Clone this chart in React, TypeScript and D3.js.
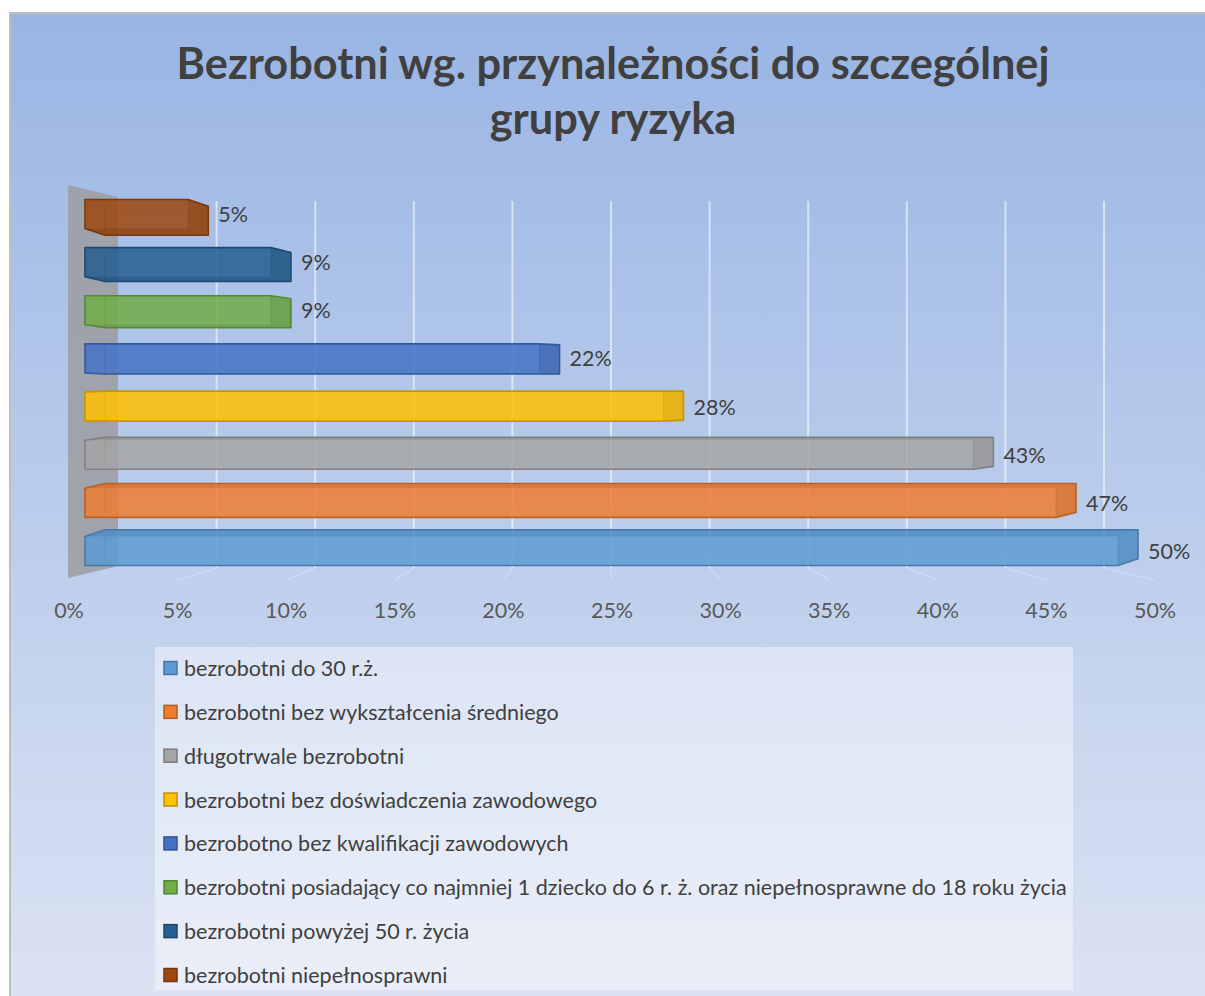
import React, { useRef, useEffect } from 'react';
import * as d3 from 'd3';

// series in legend order (first one is drawn at the bottom)
const categories = [
  'bezrobotni do 30 r.ż.',
  'bezrobotni bez wykształcenia średniego',
  'długotrwale bezrobotni',
  'bezrobotni bez doświadczenia zawodowego',
  'bezrobotno bez kwalifikacji zawodowych',
  'bezrobotni posiadający co najmniej 1 dziecko do 6 r. ż. oraz niepełnosprawne do 18 roku życia',
  'bezrobotni powyżej 50 r. życia',
  'bezrobotni niepełnosprawni',
];
const values = [0.5, 0.47, 0.43, 0.28, 0.22, 0.09, 0.09, 0.05];
const colors = ['#5B9BD5', '#ED7D31', '#A5A5A5', '#FFC000', '#4472C4', '#70AD47', '#255E91', '#9E480E'];
const tickValues = [0, 0.05, 0.1, 0.15, 0.2, 0.25, 0.3, 0.35, 0.4, 0.45, 0.5];
const titleLines = ['Bezrobotni wg. przynależności do szczególnej', 'grupy ryzyka'];

const W = 1205;
const H = 996;
const FONT = 'Lato, "Open Sans", sans-serif';
const TXT = 21.5;

function App() {
  const ref = useRef<SVGSVGElement>(null);

  useEffect(() => {
    const svg = d3.select(ref.current);
    svg.selectAll('*').remove();

    // background
    const defs = svg.append('defs');
    const bg = defs.append('linearGradient')
      .attr('id', 'bg-grad')
      .attr('x1', '0%').attr('y1', '0%')
      .attr('x2', '0%').attr('y2', '100%');
    bg.append('stop').attr('offset', '0%').attr('stop-color', 'rgb(153,181,228)');
    bg.append('stop').attr('offset', '100%').attr('stop-color', 'rgb(219,227,243)');

    svg.append('rect').attr('width', W).attr('height', H).attr('fill', '#fff');
    svg.append('rect')
      .attr('x', 9).attr('y', 12)
      .attr('width', W - 9).attr('height', H - 12)
      .attr('fill', 'url(#bg-grad)');
    svg.append('path')
      .attr('d', `M10,${H} V13 H${W}`)
      .attr('fill', 'none')
      .attr('stroke', '#bdbdbd')
      .attr('stroke-width', 2);

    // title
    svg.append('g')
      .selectAll('text')
      .data(titleLines)
      .enter().append('text')
      .attr('x', 613)
      .attr('y', (d, i) => 79 + i * 55)
      .attr('text-anchor', 'middle')
      .attr('font-family', FONT)
      .attr('font-weight', 700)
      .attr('font-size', 43.3)
      .attr('fill', '#404040')
      .text(d => d);

    // scales: front floor edge (tick labels), back wall (gridlines), bars
    const xFloor = d3.scaleLinear().domain([0, 0.5]).range([69, 1155]);
    const xBack = d3.scaleLinear().domain([0, 0.5]).range([118, 1104]);
    const xBar = d3.scaleLinear().domain([0, 0.5]).range([85, 1118]);

    const rowOrder = categories.slice().reverse();
    const y = d3.scaleBand()
      .domain(rowOrder)
      .range([199.5, 565.5])
      .paddingInner(0.397)
      .paddingOuter(0);

    const wallTopFront = 185, wallTopBack = 197, wallBotFront = 578, wallBotBack = 566;

    // side wall
    svg.append('path')
      .attr('d', `M${xFloor(0) - 1},${wallTopFront} L${xBack(0)},${wallTopBack} L${xBack(0)},${wallBotBack} L${xFloor(0) - 1},${wallBotFront} Z`)
      .attr('fill', '#9d9fa4')
      .attr('fill-opacity', 0.9);

    // gridlines on back wall
    const grid = svg.append('g');
    grid.selectAll('line.v')
      .data(tickValues.slice(1))
      .enter().append('line')
      .attr('class', 'v')
      .attr('x1', d => xBack(d)).attr('x2', d => xBack(d))
      .attr('y1', wallTopBack + 4).attr('y2', wallBotBack + 2)
      .attr('stroke', '#ffffff')
      .attr('stroke-opacity', 0.55)
      .attr('stroke-width', 2);
    // faint floor lines
    grid.selectAll('line.f')
      .data(tickValues.slice(1))
      .enter().append('line')
      .attr('class', 'f')
      .attr('x1', d => xBack(d)).attr('x2', d => xFloor(d))
      .attr('y1', wallBotBack + 2).attr('y2', wallBotFront + 2)
      .attr('stroke', '#ffffff')
      .attr('stroke-opacity', 0.22)
      .attr('stroke-width', 1.5);

    // bars (pseudo 3D prisms)
    const depthX = 20;
    const vanishY = 383;
    const bars = svg.append('g');
    categories.forEach((cat, i) => {
      const v = values[i];
      const c = d3.color(colors[i])!;
      const dark = c.darker(0.7).formatHex();
      const x0 = xBar(0);
      const x1 = xBar(v);
      const y0 = y(cat)!;
      const h = y.bandwidth();
      const dy = -(y0 + h / 2 - vanishY) * 0.04;
      const F: [number, number][] = [[x0, y0], [x1, y0], [x1, y0 + h], [x0, y0 + h]];
      const B: [number, number][] = F.map(p => [p[0] + depthX, p[1] + dy]);
      const hull = d3.polygonHull([...F, ...B])!;
      const g = bars.append('g');
      g.append('path')
        .attr('d', 'M' + hull.map(p => p.join(',')).join('L') + 'Z')
        .attr('fill', colors[i])
        .attr('fill-opacity', 0.85)
        .attr('stroke', dark)
        .attr('stroke-width', 1.6)
        .attr('stroke-linejoin', 'round');
      // right face
      g.append('path')
        .attr('d', `M${F[1]}L${B[1]}L${B[2]}L${F[2]}Z`)
        .attr('fill', dark)
        .attr('fill-opacity', 0.3);
      // top / bottom face
      const face = dy < 0
        ? `M${F[0]}L${B[0]}L${B[1]}L${F[1]}Z`
        : `M${F[3]}L${B[3]}L${B[2]}L${F[2]}Z`;
      g.append('path')
        .attr('d', face)
        .attr('fill', dark)
        .attr('fill-opacity', 0.35);
      // faint inner edges
      g.append('line')
        .attr('x1', B[0][0]).attr('x2', B[3][0])
        .attr('y1', B[0][1]).attr('y2', B[3][1])
        .attr('stroke', dark).attr('stroke-opacity', 0.25);
      g.append('line')
        .attr('x1', F[1][0]).attr('x2', F[2][0])
        .attr('y1', F[1][1]).attr('y2', F[2][1])
        .attr('stroke', dark).attr('stroke-opacity', 0.35);

      // value label
      g.append('text')
        .attr('x', x1 + depthX + 10)
        .attr('y', y0 + h / 2 + 8)
        .attr('font-family', FONT)
        .attr('font-size', TXT)
        .attr('fill', '#404040')
        .text(d3.format('.0%')(v));
    });

    // axis tick labels
    svg.append('g')
      .selectAll('text')
      .data(tickValues)
      .enter().append('text')
      .attr('x', d => xFloor(d))
      .attr('y', 618)
      .attr('text-anchor', 'middle')
      .attr('font-family', FONT)
      .attr('font-size', TXT)
      .attr('fill', '#595959')
      .text(d => d3.format('.0%')(d));

    // legend
    const ly = d3.scalePoint().domain(categories).range([668, 975]);
    const legend = svg.append('g');
    legend.append('rect')
      .attr('x', 155).attr('y', 647)
      .attr('width', 918).attr('height', 343)
      .attr('fill', '#ffffff')
      .attr('fill-opacity', 0.42);
    const items = legend.selectAll('g.item')
      .data(categories)
      .enter().append('g')
      .attr('class', 'item')
      .attr('transform', d => `translate(0,${ly(d)})`);
    items.append('rect')
      .attr('x', 164).attr('y', -6.5)
      .attr('width', 13).attr('height', 13)
      .attr('fill', (d, i) => colors[i])
      .attr('stroke', (d, i) => d3.color(colors[i])!.darker(0.8).formatHex())
      .attr('stroke-width', 1.5);
    items.append('text')
      .attr('x', 184)
      .attr('y', 8)
      .attr('font-family', FONT)
      .attr('font-size', TXT)
      .attr('fill', '#404040')
      .text(d => d);
  }, []);

  return (
    <svg
      ref={ref}
      width={W}
      height={H}
      style={{ position: 'absolute', left: 0, top: 0, display: 'block' }}
    />
  );
}

export default App;
